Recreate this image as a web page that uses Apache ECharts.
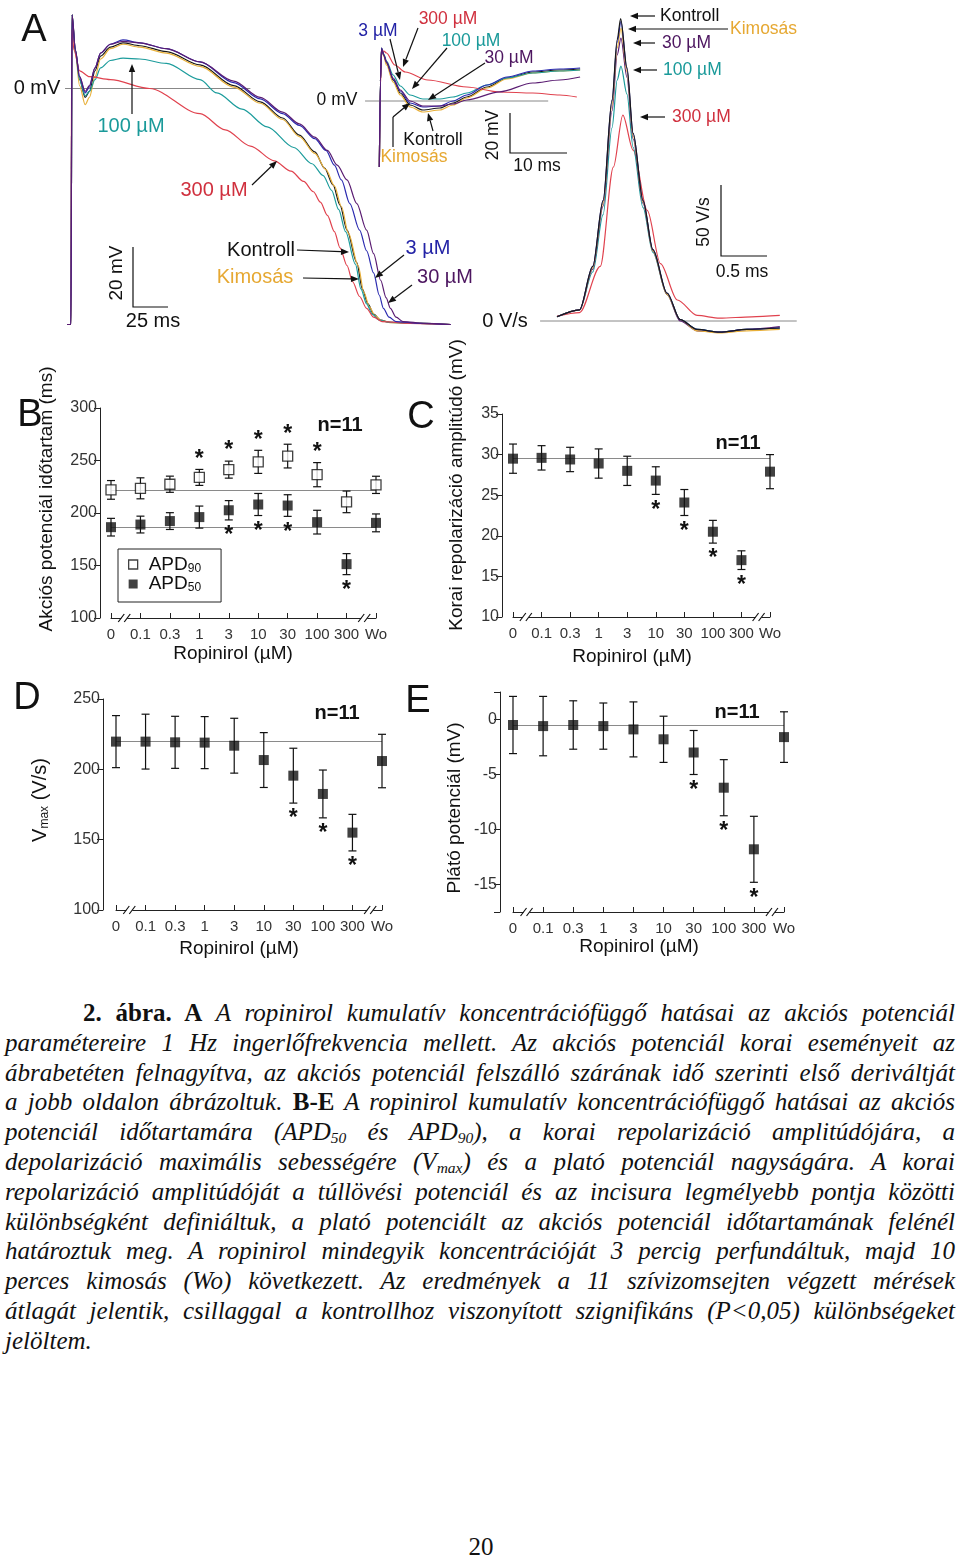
<!DOCTYPE html>
<html>
<head>
<meta charset="utf-8">
<script src="https://cdn.jsdelivr.net/npm/echarts@6.0.0/dist/echarts.min.js"></script>
<style>
  html, body { margin: 0; padding: 0; background: #fff; }
  body { width: 960px; height: 1559px; position: relative; overflow: hidden; }
  #chart { position: absolute; left: 0; top: 0; width: 960px; height: 985px; }
  .caption {
    position: absolute; left: 5px; top: 998px; width: 950px;
    font-family: 'Liberation Serif', 'Times New Roman', serif;
    font-size: 25px; color: #111;
  }
  .caption .ln {
    height: 29.8px; line-height: 29.8px; white-space: nowrap;
    text-align: justify; text-align-last: justify; font-style: italic;
  }
  .caption .ln.last { text-align: left; text-align-last: left; }
  .caption b { font-style: normal; font-weight: bold; }
  .caption sub { font-size: 0.62em; line-height: 0; vertical-align: -0.22em; }
  .pagenum {
    position: absolute; left: 0; width: 962px; top: 1533px; text-align: center;
    font-family: 'Liberation Serif', 'Times New Roman', serif; font-size: 25px; color: #111;
  }
</style>
</head>
<body>
<div id="chart"></div>
<div class="caption">
  <div class="ln" style="padding-left:78px"><b>2. ábra. A</b> A ropinirol kumulatív koncentrációfüggő hatásai az akciós potenciál</div>
  <div class="ln">paramétereire 1 Hz ingerlőfrekvencia mellett. Az akciós potenciál korai eseményeit az</div>
  <div class="ln">ábrabetéten felnagyítva, az akciós potenciál felszálló szárának idő szerinti első deriváltját</div>
  <div class="ln">a jobb oldalon ábrázoltuk. <b>B-E</b> A ropinirol kumulatív koncentrációfüggő hatásai az akciós</div>
  <div class="ln">potenciál időtartamára (APD<sub>50</sub> és APD<sub>90</sub>), a korai repolarizáció amplitúdójára, a</div>
  <div class="ln">depolarizáció maximális sebességére (V<sub>max</sub>) és a plató potenciál nagyságára. A korai</div>
  <div class="ln">repolarizáció amplitúdóját a túllövési potenciál és az incisura legmélyebb pontja közötti</div>
  <div class="ln">különbségként definiáltuk, a plató potenciált az akciós potenciál időtartamának felénél</div>
  <div class="ln">határoztuk meg. A ropinirol mindegyik koncentrációját 3 percig perfundáltuk, majd 10</div>
  <div class="ln">perces kimosás (Wo) következett. Az eredmények a 11 szívizomsejten végzett mérések</div>
  <div class="ln">átlagát jelentik, csillaggal a kontrollhoz viszonyított szignifikáns (P&lt;0,05) különbségeket</div>
  <div class="ln last">jelöltem.</div>
</div>
<div class="pagenum">20</div>
<script>
const SANS = "'Liberation Sans', Arial, sans-serif";

// ---- A: action potentials [ms, mV] ----
const apKontroll = [[5,-80],[7.8,-80],[8.6,25],[11,13],[14,3],[18,-3],[21,-1],[25,6],[29,11],[36,14],[45,15.5],[57,14.5],[76,12.5],[100,8],[124,1],[143,-4.5],[159,-10],[171,-15.8],[182,-21.5],[189,-27],[195,-32.7],[200,-39.5],[205,-48],[212,-59],[216,-68],[220,-73],[224,-76.5],[229,-78.5],[236,-79.3],[257,-79.6],[279,-80]];
const apKimosas = [[5,-80],[7.8,-80],[8.6,25],[11,12],[14,1],[18,-5.5],[21,-3],[25,4],[29,10],[36,13.5],[45,15],[57,14],[76,12],[100,7.5],[124,0.5],[143,-5],[159,-10.5],[171,-16.3],[182,-22],[190,-27.5],[196,-33],[201,-40],[206,-49],[213,-60],[217,-69],[221,-74],[225,-77],[230,-78.8],[237,-79.4],[257,-79.6],[279,-80]];
const ap3 = [[5,-80],[7.8,-80],[8.6,25],[11,13],[14,4],[18,-1.5],[21,0.5],[25,7],[29,12],[36,15],[45,16.5],[57,15.5],[76,13.5],[100,9],[124,2],[143,-3.5],[159,-8.5],[171,-12.5],[182,-17],[190,-21],[196,-26],[201,-31],[207,-39],[214,-48],[219,-55],[224,-62.5],[228,-70],[231,-74.5],[235,-77.5],[240,-79],[257,-79.6],[279,-80]];
const ap30 = [[5,-80],[7.8,-80],[8.6,25],[11,13],[14,4],[18,-1],[21,1],[25,7],[29,12],[36,15],[45,16],[57,15.5],[76,13.5],[100,9],[124,2.5],[143,-3],[159,-8],[171,-12],[182,-16.5],[191,-21],[198,-26],[205,-31],[212,-39],[219,-48],[224,-56],[229,-65],[233,-71],[236,-74.5],[240,-77.5],[245,-79],[260,-79.6],[279,-80]];
const ap100 = [[5,-80],[7.8,-80],[8.6,25],[11,12],[14,3],[18,-2.5],[21,-1],[25,3],[29,7],[36,9.5],[45,10.3],[57,10],[76,8.5],[100,3],[112,-1.5],[130,-7],[148,-13],[167,-20],[180,-25.5],[188,-29.5],[194,-34.5],[199,-41],[204,-48.5],[211,-59.5],[215,-68],[219,-73],[223,-76.5],[228,-78.5],[235,-79.3],[257,-79.6],[279,-80]];
const ap300 = [[5,-80],[7.8,-80],[8.4,20],[10,13],[14,6],[21,4],[36,3],[64,0],[100,-8.5],[118,-14],[136,-19.5],[153,-24.5],[165,-28],[174,-31.5],[181,-35],[186,-38.5],[191,-43],[196,-48.5],[200,-54],[205,-60],[209,-65.5],[214,-70.5],[219,-74.5],[224,-77.5],[230,-79],[250,-79.6],[279,-80]];

// ---- A inset: early repolarization [ms, mV] ----
const inKontroll = [[1.7,-33],[1.9,10],[2.1,26.5],[2.5,23],[3.0,19],[4.2,10.5],[5.5,4],[7.3,-2],[9.6,-4.5],[12.7,-3.5],[15.1,-1],[17.6,2],[21.3,7],[24.9,11.5],[29.6,14.5],[34.5,15.5],[38.2,16]];
const inKimosas = [[1.7,-33],[1.9,10],[2.1,26],[2.5,22.5],[3.0,18],[4.2,9.5],[5.5,3],[7.3,-3],[9.6,-5.5],[12.7,-4.5],[15.1,-2],[17.6,1.5],[21.3,6.5],[24.9,11],[29.6,14],[34.5,15],[38.2,15.5]];
const in3 = [[1.7,-33],[1.9,10],[2.1,26.5],[2.5,23],[3.0,19.5],[4.2,11],[5.5,5],[7.3,-1],[9.6,-3],[12.7,-2.5],[15.1,0],[17.6,3],[21.3,8],[24.9,12],[29.6,15],[34.5,16],[38.2,16.5]];
const in30 = [[1.7,-33],[1.9,10],[2.1,26],[2.5,23],[3.0,19.5],[4.2,11.5],[5.5,5.5],[7.3,0],[9.6,-2.5],[12.7,-2.5],[15.1,-1.5],[17.6,0.5],[23.6,4.6],[29.6,9],[34.5,10.5],[38.2,12]];
const in100 = [[1.7,-33],[1.9,10],[2.1,26],[2.5,23.5],[3.0,20],[4.2,13],[5.5,7.5],[7.3,3],[9.6,1],[12.7,1],[15.1,2],[17.6,4],[21.3,8],[24.9,11.5],[29.6,14],[34.5,15],[38.2,15.5]];
const in300 = [[1.7,-33],[1.9,8],[2.1,24],[2.5,25],[3.0,24],[4.5,18],[6.4,14.5],[10.5,10.5],[17.6,7],[23.6,4.5],[29.6,4],[34.5,3],[37.6,2]];

// ---- A right: dV/dt of upstroke [ms from peak, V/s] ----
const dvKontroll = [[-0.67,3],[-0.43,8],[-0.29,39],[-0.18,86],[-0.085,158],[-0.03,201],[0.007,216],[0.074,181],[0.14,134],[0.245,86],[0.35,51],[0.5,20],[0.64,1],[0.82,-6],[1.06,-8],[1.35,-6],[1.7,-5]];
const dvKimosas = [[-0.67,3],[-0.43,8],[-0.29,38],[-0.18,84],[-0.085,154],[-0.03,195],[0.01,209],[0.074,178],[0.14,132],[0.245,85],[0.35,50],[0.5,19],[0.64,1],[0.82,-7],[1.06,-8.5],[1.35,-7],[1.7,-6]];
const dv3 = [[-0.67,3],[-0.43,8],[-0.29,39],[-0.18,86],[-0.085,157],[-0.03,199],[0.01,214],[0.074,180],[0.14,134],[0.245,86],[0.35,51],[0.5,20],[0.64,1],[0.82,-6],[1.06,-8],[1.35,-6],[1.7,-5]];
const dv30 = [[-0.67,3],[-0.43,8],[-0.29,37],[-0.18,82],[-0.085,150],[-0.03,190],[0.01,202],[0.074,174],[0.14,130],[0.245,84],[0.35,50],[0.5,19],[0.64,0],[0.82,-7],[1.06,-8],[1.35,-6],[1.7,-4]];
const dv100 = [[-0.67,3],[-0.43,8],[-0.29,35],[-0.18,76],[-0.085,138],[-0.03,172],[0.01,182],[0.074,162],[0.14,124],[0.245,81],[0.35,49],[0.5,19],[0.64,1],[0.82,-6],[1.06,-8],[1.35,-6],[1.7,-5]];
const dv300 = [[-0.67,3.5],[-0.43,6],[-0.21,39],[-0.07,110],[0.03,147],[0.14,122],[0.29,79],[0.43,41],[0.61,15],[0.82,4],[1.06,2],[1.4,3],[1.7,4]];

// ---- B-E: ropinirole concentrations ----
const conc = ['0', '0.1', '0.3', '1', '3', '10', '30', '100', '300', 'Wo'];
const apd90 = [222, 223.5, 227.4, 233.9, 241.3, 248.7, 254.2, 236.5, 210.6, 226.8];
const apd90Err = [8.9, 10, 7.7, 7.6, 8.1, 11, 11.3, 11.5, 10.3, 8.2];
const apd90Sig = [0, 0, 0, 1, 1, 1, 1, 1, 0, 0];
const apd50 = [186.5, 189, 192.3, 196.1, 202.6, 208.1, 207.1, 191.3, 151.3, 190.6];
const apd50Err = [8.4, 8, 8, 10.5, 9.2, 10.5, 10.3, 11.3, 10, 8.5];
const apd50Sig = [0, 0, 0, 0, 1, 1, 1, 0, 1, 0];
const korai = [29.5, 29.6, 29.4, 28.9, 28.0, 26.8, 24.1, 20.5, 17.0, 27.9];
const koraiErr = [1.8, 1.5, 1.5, 1.8, 1.8, 1.7, 1.6, 1.4, 1.15, 2.1];
const koraiSig = [0, 0, 0, 0, 0, 1, 1, 1, 1, 0];
const vmax = [219.7, 219.7, 219.2, 219, 216.8, 206.6, 195.5, 182.5, 155, 205.9];
const vmaxErr = [18.5, 19.5, 18.5, 18.5, 19.5, 19.5, 19.5, 17, 13, 19];
const vmaxSig = [0, 0, 0, 0, 0, 0, 1, 1, 1, 0];
const plato = [-0.5, -0.6, -0.5, -0.6, -0.9, -1.8, -3.0, -6.2, -11.8, -1.6];
const platoErr = [2.6, 2.7, 2.2, 2.1, 2.5, 2.1, 2.0, 2.55, 3.0, 2.3];
const platoSig = [0, 0, 0, 0, 0, 0, 1, 1, 1, 0];

const col = {
  kontroll: '#1a1a1a', kimosas: '#e8b03a', c3: '#2b2bb0',
  c30: '#5a1c72', c100: '#1c9c9c', c300: '#e0424e'
};

const chart = echarts.init(document.getElementById('chart'));

function trace(data, color, gi) {
  return {
    type: 'line', xAxisIndex: gi, yAxisIndex: gi, data: data,
    showSymbol: false, smooth: 0.3, smoothMonotone: 'x', silent: true,
    lineStyle: { color: color, width: 1.2 }
  };
}
function baseline(x0, x1, gi) {
  return {
    type: 'line', xAxisIndex: gi, yAxisIndex: gi, data: [[x0, 0], [x1, 0]],
    showSymbol: false, silent: true, z: 1, lineStyle: { color: '#888', width: 1 }
  };
}
function errBars(gi, means, errs, sig, up) {
  return {
    type: 'custom', xAxisIndex: gi, yAxisIndex: gi, silent: true, z: 3,
    data: means.map((m, i) => [i, m, errs[i], sig[i]]),
    renderItem: function (params, api) {
      const i = api.value(0), m = api.value(1), e = api.value(2), s = api.value(3);
      const hi = api.coord([i, m + e]);
      const lo = api.coord([i, m - e]);
      const st = { stroke: '#111', lineWidth: 1.2 };
      const ch = [
        { type: 'line', shape: { x1: hi[0], y1: hi[1], x2: lo[0], y2: lo[1] }, style: st },
        { type: 'line', shape: { x1: hi[0] - 4, y1: hi[1], x2: hi[0] + 4, y2: hi[1] }, style: st },
        { type: 'line', shape: { x1: lo[0] - 4, y1: lo[1], x2: lo[0] + 4, y2: lo[1] }, style: st }
      ];
      if (s) {
        ch.push({
          type: 'text', x: hi[0], y: up ? hi[1] - 10 : lo[1] + 16,
          style: { text: '*', fontSize: 23, fontWeight: 'bold', fill: '#111',
                   align: 'center', verticalAlign: 'middle', fontFamily: SANS }
        });
      }
      return { type: 'group', children: ch };
    }
  };
}
function squares(gi, name, means, open) {
  return {
    name: name, type: 'scatter', xAxisIndex: gi, yAxisIndex: gi, z: 4, silent: true,
    symbol: 'rect', symbolSize: 10,
    data: means.map((m, i) => [i, m]),
    itemStyle: open ? { color: '#fff', borderColor: '#111', borderWidth: 1.3 } : { color: '#111' },
    markLine: {
      silent: true, symbol: 'none', label: { show: false }, z: 1,
      lineStyle: { color: '#8a8a8a', width: 1, type: 'solid' },
      data: [{ yAxis: means[0] }]
    }
  };
}

const hidden = (gi, min, max) => ({ gridIndex: gi, type: 'value', min: min, max: max, show: false });
function catAxis(gi) {
  return {
    gridIndex: gi, type: 'category', data: conc, boundaryGap: false,
    axisLine: { onZero: false, lineStyle: { color: '#222', width: 1 } },
    axisTick: { inside: true, length: 5, lineStyle: { color: '#222' } },
    axisLabel: { fontSize: 15, color: '#333', margin: 9, fontFamily: SANS, interval: 0 },
    splitLine: { show: false }
  };
}
function valAxis(gi, min, max, interval, offset) {
  return {
    gridIndex: gi, type: 'value', min: min, max: max, interval: interval, offset: offset,
    axisLine: { show: true, onZero: false, lineStyle: { color: '#222', width: 1 } },
    axisTick: { show: true, length: 6, lineStyle: { color: '#222' } },
    axisLabel: { fontSize: 16, color: '#333', margin: 3, fontFamily: SANS },
    splitLine: { show: false }
  };
}
const yE = valAxis(6, -17.5, 2.5, null, 13);
delete yE.interval;
yE.axisTick.customValues = [2.5, 0, -5, -10, -15, -17.5];
yE.axisLabel.customValues = [0, -5, -10, -15];

const G = (l, t, w, h) => ({ left: l, top: t, width: w, height: h, containLabel: false, outerBoundsMode: 'none' });

chart.setOption({
  animation: false,
  backgroundColor: '#fff',
  textStyle: { fontFamily: SANS },
  grid: [
    G(60, 0, 420, 354),
    G(364.5, 41, 225.5, 130),
    G(507.2, 6, 291.4, 336),
    G(111, 408, 265, 210),
    G(513, 414, 257, 203),
    G(116, 699, 266, 211),
    G(513, 692, 271, 220)
  ],
  xAxis: [hidden(0, 0, 300), hidden(1, -1, 40), hidden(2, -1.2, 1.9),
          catAxis(3), catAxis(4), catAxis(5), catAxis(6)],
  yAxis: [hidden(0, -90, 30), hidden(1, -35, 30), hidden(2, -15, 225),
          valAxis(3, 100, 300, 50, 11), valAxis(4, 10, 35, 5, 11),
          valAxis(5, 100, 250, 50, 13), yE],
  legend: {
    data: [
      { name: 'APD90', icon: 'rect', itemStyle: { color: '#fff', borderColor: '#111', borderWidth: 1.3 } },
      { name: 'APD50', icon: 'rect', itemStyle: { color: '#111' } }
    ],
    orient: 'vertical', left: 118, top: 549, selectedMode: false,
    borderColor: '#222', borderWidth: 1, padding: [6, 20, 8, 10],
    itemWidth: 9, itemHeight: 9, itemGap: 0,
    formatter: n => '{b|APD}{s|' + n.slice(3) + '}',
    textStyle: {
      padding: [0, 0, 0, 6],
      rich: {
        b: { fontSize: 19, color: '#111', fontFamily: SANS, lineHeight: 20 },
        s: { fontSize: 12, color: '#111', fontFamily: SANS, lineHeight: 8, verticalAlign: 'bottom' }
      }
    }
  },
  series: [
    baseline(3.6, 136, 0),
    trace(apKontroll, col.kontroll, 0), trace(apKimosas, col.kimosas, 0),
    trace(ap100, col.c100, 0), trace(ap300, col.c300, 0),
    trace(ap3, col.c3, 0), trace(ap30, col.c30, 0),

    baseline(-0.9, 32.4, 1),
    trace(inKontroll, col.kontroll, 1), trace(inKimosas, col.kimosas, 1),
    trace(in100, col.c100, 1), trace(in300, col.c300, 1),
    trace(in3, col.c3, 1), trace(in30, col.c30, 1),

    baseline(-0.85, 1.88, 2),
    trace(dv300, col.c300, 2), trace(dv100, col.c100, 2), trace(dv30, col.c30, 2),
    trace(dvKimosas, col.kimosas, 2), trace(dv3, col.c3, 2), trace(dvKontroll, col.kontroll, 2),

    errBars(3, apd90, apd90Err, apd90Sig, true), squares(3, 'APD90', apd90, true),
    errBars(3, apd50, apd50Err, apd50Sig, false), squares(3, 'APD50', apd50, false),
    errBars(4, korai, koraiErr, koraiSig, false), squares(4, 'korai', korai, false),
    errBars(5, vmax, vmaxErr, vmaxSig, false), squares(5, 'vmax', vmax, false),
    errBars(6, plato, platoErr, platoSig, false), squares(6, 'plato', plato, false)
  ]
});

// ---- annotations ----
function txt(x, y, text, o) {
  o = o || {};
  return {
    type: 'text', x: x, y: y, rotation: o.rot || 0, z: 100, silent: true,
    style: {
      text: text, fill: o.color || '#111', fontSize: o.size || 20,
      fontWeight: o.bold ? 'bold' : 'normal', fontFamily: SANS,
      align: o.align || 'center', verticalAlign: 'middle', rich: o.rich
    }
  };
}
function seg(pts, color) {
  return { type: 'polyline', z: 100, silent: true, shape: { points: pts },
           style: { stroke: color || '#111', lineWidth: 1.2, fill: null } };
}
function arrow(x1, y1, x2, y2, color) {
  color = color || '#111';
  const a = Math.atan2(y2 - y1, x2 - x1), L = 8, W = 3.2;
  const bx = x2 - L * Math.cos(a), by = y2 - L * Math.sin(a);
  const px = -Math.sin(a) * W, py = Math.cos(a) * W;
  return [
    seg([[x1, y1], [bx, by]], color),
    { type: 'polygon', z: 100, silent: true,
      shape: { points: [[x2, y2], [bx + px, by + py], [bx - px, by - py]] }, style: { fill: color } }
  ];
}
const R90 = Math.PI / 2;
const lab = { kimosas: '#e6a832', c3: '#2323a6', c30: '#4d1660', c100: '#1a9a9a', c300: '#d0303e' };

let g = [];
// panel A main
g.push(txt(34, 31, 'A', { size: 38 }));
g.push(txt(37, 88, '0 mV'));
g.push(seg([[133, 247], [133, 307], [168, 307]]));
g.push(txt(117, 273, '20 mV', { rot: R90, size: 19 }));
g.push(txt(153, 321, '25 ms'));
g.push(txt(131, 126, '100 µM', { color: lab.c100 }));
g = g.concat(arrow(132, 114, 132, 64));
g.push(txt(214, 190, '300 µM', { color: lab.c300 }));
g = g.concat(arrow(252, 185, 277, 161));
g.push(txt(261, 250, 'Kontroll'));
g = g.concat(arrow(297, 250, 349, 252));
g.push(txt(255, 277, 'Kimosás', { color: lab.kimosas }));
g = g.concat(arrow(303, 278, 359, 279));
g.push(txt(428, 248, '3 µM', { color: lab.c3 }));
g = g.concat(arrow(404, 255, 375, 278));
g.push(txt(445, 277, '30 µM', { color: lab.c30 }));
g = g.concat(arrow(412, 285, 388, 303));

// inset
g.push(txt(337, 100, '0 mV', { size: 17.5 }));
g.push(seg([[510, 113], [510, 153], [567, 153]]));
g.push(txt(493, 135, '20 mV', { rot: R90, size: 17.5 }));
g.push(txt(537, 166, '10 ms', { size: 17.5 }));
g.push(txt(378, 31, '3 µM', { size: 17.5, color: lab.c3 }));
g = g.concat(arrow(390, 39, 400, 80));
g.push(txt(448, 19, '300 µM', { size: 17.5, color: lab.c300 }));
g = g.concat(arrow(418, 28, 403, 67));
g.push(txt(471, 41, '100 µM', { size: 17.5, color: lab.c100 }));
g = g.concat(arrow(447, 48, 412, 89));
g.push(txt(509, 58, '30 µM', { size: 17.5, color: lab.c30 }));
g = g.concat(arrow(485, 63, 428, 100));
g.push(txt(433, 140, 'Kontroll', { size: 17.5 }));
g = g.concat(arrow(433, 131, 428, 113));
g.push(txt(414, 157, 'Kimosás', { size: 17.5, color: lab.kimosas }));
g.push(seg([[393, 147], [393, 117]]));
g = g.concat(arrow(393, 117, 410, 103));

// dV/dt
g.push(txt(505, 321, '0 V/s'));
g.push(seg([[721, 185], [721, 256], [767, 256]]));
g.push(txt(704, 222, '50 V/s', { rot: R90, size: 17.5 }));
g.push(txt(742, 272, '0.5 ms', { size: 17.5 }));
g.push(txt(660, 16, 'Kontroll', { size: 17.5, align: 'left' }));
g = g.concat(arrow(655, 16, 630, 16));
g.push(txt(730, 29, 'Kimosás', { size: 17.5, align: 'left', color: lab.kimosas }));
g = g.concat(arrow(728, 29, 628, 29));
g.push(txt(662, 43, '30 µM', { size: 17.5, align: 'left', color: lab.c30 }));
g = g.concat(arrow(655, 43, 633, 43));
g.push(txt(663, 70, '100 µM', { size: 17.5, align: 'left', color: lab.c100 }));
g = g.concat(arrow(657, 70, 633, 70));
g.push(txt(672, 117, '300 µM', { size: 17.5, align: 'left', color: lab.c300 }));
g = g.concat(arrow(665, 117, 640, 117));

// panels B-E titles
g.push(txt(30, 416, 'B', { size: 38 }));
g.push(txt(421, 418, 'C', { size: 38 }));
g.push(txt(27, 699, 'D', { size: 38 }));
g.push(txt(418, 702, 'E', { size: 38 }));
g.push(txt(340, 425, 'n=11', { bold: true }));
g.push(txt(738, 443, 'n=11', { bold: true }));
g.push(txt(337, 713, 'n=11', { bold: true }));
g.push(txt(737, 712, 'n=11', { bold: true }));
g.push(txt(47, 499, 'Akciós potenciál időtartam (ms)', { rot: R90, size: 19 }));
g.push(txt(457, 485, 'Korai repolarizáció amplitúdó (mV)', { rot: R90, size: 19 }));
g.push(txt(40, 800, '{v|V}{s|max}{v| (V/s)}', { rot: R90, rich: {
  v: { fontSize: 20, fontFamily: SANS, fill: '#111', lineHeight: 22 },
  s: { fontSize: 12, fontFamily: SANS, fill: '#111', lineHeight: 8, verticalAlign: 'bottom' } } }));
g.push(txt(455, 808, 'Plátó potenciál (mV)', { rot: R90, size: 19 }));
g.push(txt(233, 654, 'Ropinirol (µM)', { size: 19 }));
g.push(txt(632, 657, 'Ropinirol (µM)', { size: 19 }));
g.push(txt(239, 949, 'Ropinirol (µM)', { size: 19 }));
g.push(txt(639, 947, 'Ropinirol (µM)', { size: 19 }));

// axis breaks on the x axes
const yMins = { 3: 100, 4: 10, 5: 100, 6: -17.5 };
[3, 4, 5, 6].forEach(function (gi) {
  const p0 = chart.convertToPixel({ gridIndex: gi }, [0, yMins[gi]]);
  const p1 = chart.convertToPixel({ gridIndex: gi }, [1, yMins[gi]]);
  const p8 = chart.convertToPixel({ gridIndex: gi }, [8, yMins[gi]]);
  const p9 = chart.convertToPixel({ gridIndex: gi }, [9, yMins[gi]]);
  const y = p0[1];
  [p0[0] + 0.45 * (p1[0] - p0[0]), p8[0] + 0.6 * (p9[0] - p8[0])].forEach(function (cx) {
    g.push({ type: 'rect', z: 100, silent: true, shape: { x: cx - 3, y: y - 2, width: 6, height: 4 }, style: { fill: '#fff' } });
    g.push(seg([[cx - 6, y + 4], [cx, y - 4]]));
    g.push(seg([[cx, y + 4], [cx + 6, y - 4]]));
  });
});

chart.setOption({ graphic: g });
</script>
</body>
</html>
